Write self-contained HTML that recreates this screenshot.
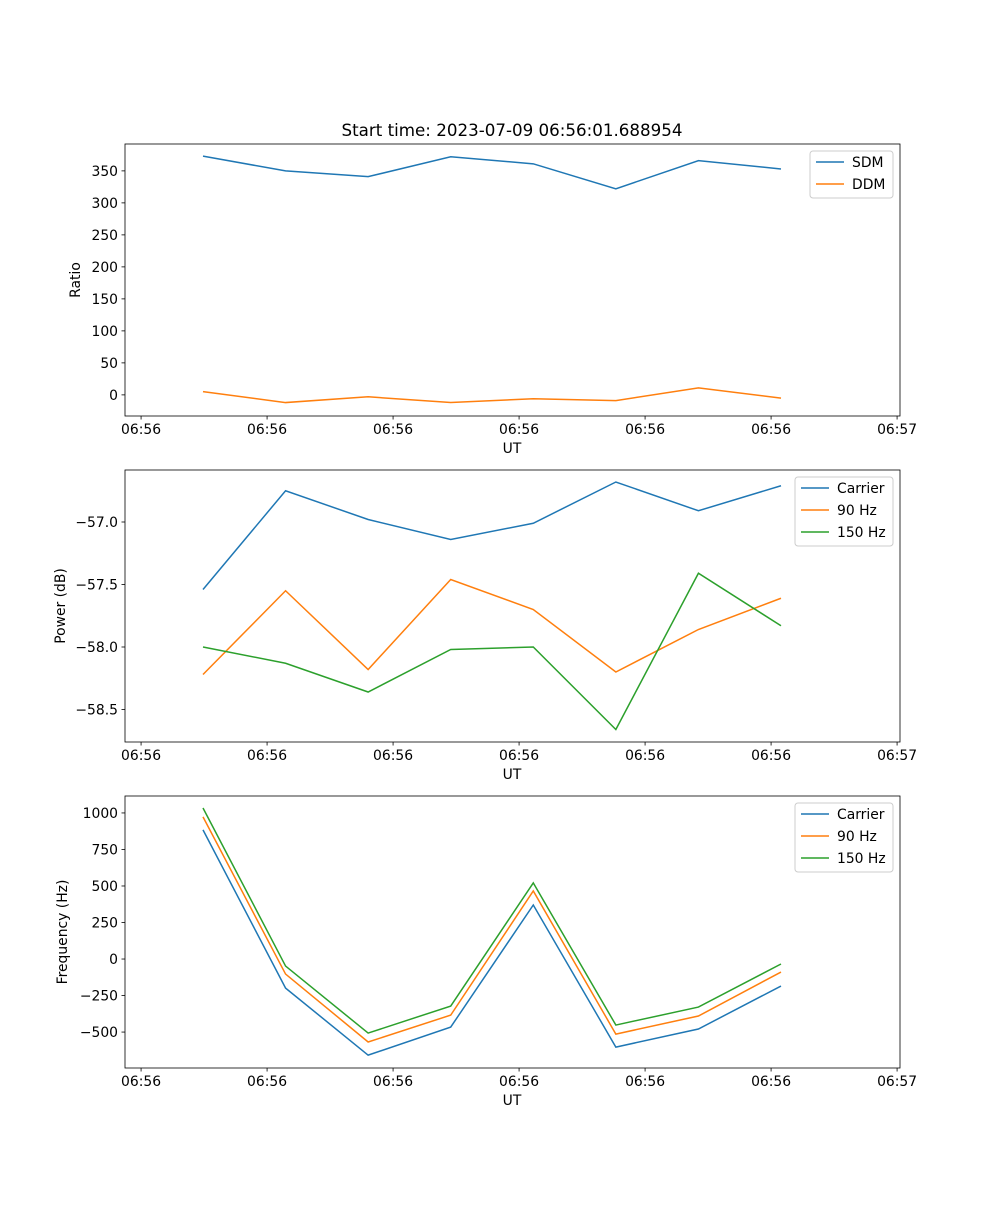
<!DOCTYPE html>
<html><head><meta charset="utf-8"><style>
body{margin:0;background:#fff}
svg text{font-family:"DejaVu Sans","Liberation Sans",sans-serif;font-size:13.9px;fill:#000}
</style></head><body>
<svg id="chart" width="1000" height="1200" xmlns="http://www.w3.org/2000/svg"></svg>
<script>
const times=[0,1,2,3,4,5,6,7];
const xTickVals=[-0.75,0.776,2.302,3.828,5.354,6.88,8.406];
const xTickLabels=["06:56","06:56","06:56","06:56","06:56","06:56","06:57"];
const sdm=[373,350,341,372,361,322,366,353];
const ddm=[5,-12,-3,-12,-6,-9,11,-5];
const pCarrier=[-57.54,-56.75,-56.98,-57.14,-57.01,-56.68,-56.91,-56.71];
const p90=[-58.22,-57.55,-58.18,-57.46,-57.70,-58.20,-57.86,-57.61];
const p150=[-58.0,-58.13,-58.36,-58.02,-58.0,-58.66,-57.41,-57.83];
const fCarrier=[884,-199,-658,-466,370,-603,-479,-185];
const f90=[973,-103,-568,-384,466,-514,-390,-89];
const f150=[1034,-48,-507,-322,521,-452,-329,-34];
const ratioTicks=[0,50,100,150,200,250,300,350];
const powerTicks=[-57.0,-57.5,-58.0,-58.5];
const freqTicks=[-500,-250,0,250,500,750,1000];

const svg=document.getElementById('chart');
const NS="http://www.w3.org/2000/svg";
function mk(tag,attrs,parent){const e=document.createElementNS(NS,tag);for(const k in attrs)e.setAttribute(k,attrs[k]);(parent||svg).appendChild(e);return e;}
const L=125,R=900;
function xScale(t){return 203+t*82.57;}
const colors=["#1f77b4","#ff7f0e","#2ca02c"];

function panel(name,top,bottom,ymin,ymax,yTicks,fmt,ylabel,series,labels,legendW,legendX){
  const g=mk('g',{});
  
  
  const y=v=>bottom-(v-ymin)/(ymax-ymin)*(bottom-top);
  series.forEach((s,i)=>{
    const p=mk('polyline',{points:s.map((v,j)=>xScale(times[j])+','+y(v)).join(' '),fill:'none',stroke:colors[i],'stroke-width':1.5},g);
    
    
  });
  const fr=mk('rect',{x:L,y:top,width:R-L,height:bottom-top,fill:'none',stroke:'#000','stroke-width':0.8},g);
  
  
  xTickVals.forEach((t,i)=>{
    const xx=xScale(t);
    mk('line',{x1:xx,x2:xx,y1:bottom,y2:bottom+3.5,stroke:'#000','stroke-width':0.8},g);
    const tx=mk('text',{x:xx,y:bottom+18,'text-anchor':'middle'},g);tx.textContent=xTickLabels[i];
    
    
  });
  yTicks.forEach(v=>{
    const yy=y(v);
    mk('line',{x1:L-3.5,x2:L,y1:yy,y2:yy,stroke:'#000','stroke-width':0.8},g);
    const tx=mk('text',{x:L-7,y:yy+5,'text-anchor':'end'},g);tx.textContent=fmt(v);
    
    
  });
  const xl=mk('text',{x:512,y:bottom+37,'text-anchor':'middle'},g);xl.textContent='UT';
  
  
  const cy=(top+bottom)/2;
  const yl=mk('text',{x:0,y:0,'text-anchor':'middle',transform:`translate(${ylabel.x},${cy}) rotate(-90)`},g);yl.textContent=ylabel.t;
  
  
  const lg=mk('g',{},g);
  
  
  const h=labels.length*22+3;
  mk('rect',{x:legendX,y:top+7,width:legendW,height:h,rx:3,fill:'#fff',stroke:'#ccc','stroke-width':1},lg);
  labels.forEach((lb,i)=>{
    const ly=top+18+i*22;
    mk('line',{x1:legendX+6,x2:legendX+34,y1:ly,y2:ly,stroke:colors[i],'stroke-width':1.5},lg);
    const t=mk('text',{x:legendX+42,y:ly+5},lg);t.textContent=lb;
    
    
  });
}
const title=mk('text',{x:512,y:136,'text-anchor':'middle',style:'font-size:16.7px'});
title.textContent='Start time: 2023-07-09 06:56:01.688954';


panel('ratio',144,416,-33,392,ratioTicks,v=>String(v),{x:80,t:'Ratio'},[sdm,ddm],['SDM','DDM'],83,810);
panel('power',470,742,-58.76,-56.584,powerTicks,v=>'\u2212'+Math.abs(v).toFixed(1),{x:65,t:'Power (dB)'},[pCarrier,p90,p150],['Carrier','90 Hz','150 Hz'],98,795);
panel('frequency',796,1068,-746,1116,freqTicks,v=>(v<0?'\u2212':'')+Math.abs(v),{x:67,t:'Frequency (Hz)'},[fCarrier,f90,f150],['Carrier','90 Hz','150 Hz'],98,795);
</script>
</body></html>
